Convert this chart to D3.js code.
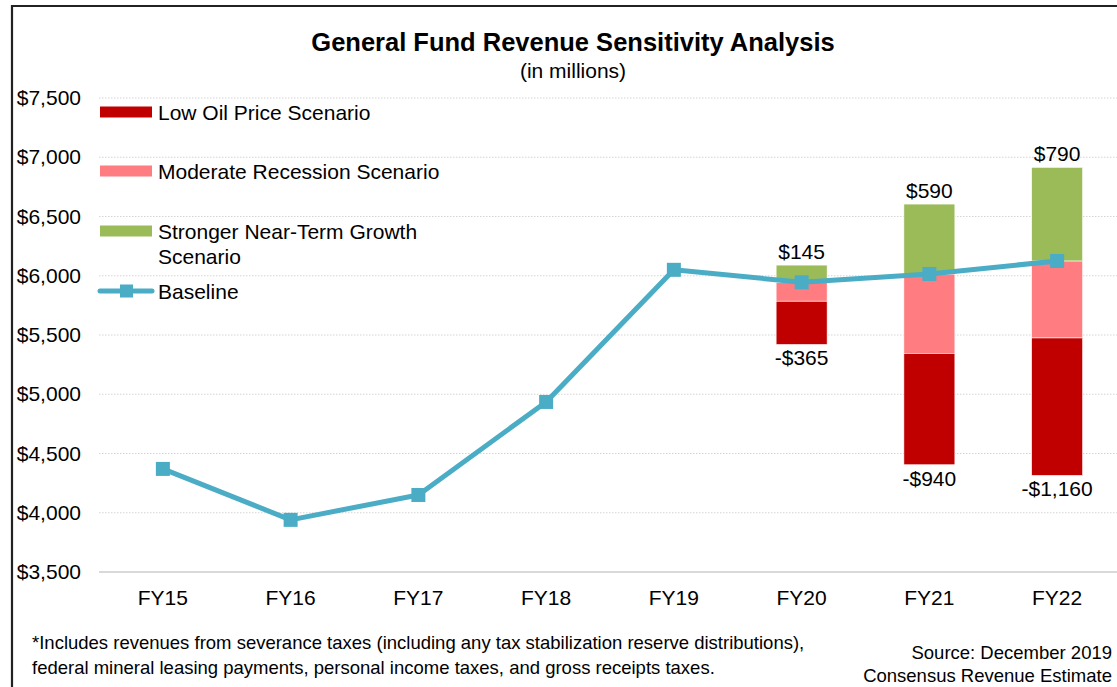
<!DOCTYPE html>
<html>
<head>
<meta charset="utf-8">
<script src="https://cdn.jsdelivr.net/npm/d3@7"></script>
<style>
  body { margin: 0; background: #fff; }
  svg { font-family: "Liberation Sans", Arial, sans-serif; }
</style>
</head>
<body>
<div id="chart"></div>
<script>
// --- data (in millions) ---
var years = ['FY15', 'FY16', 'FY17', 'FY18', 'FY19', 'FY20', 'FY21', 'FY22'];
var baseline = [4370, 3940, 4150, 4935, 6050, 5945, 6015, 6125];

var scenarioYears = ['FY20', 'FY21', 'FY22'];
var lowOil = [-365, -940, -1160];      // red, stacked below the pink
var moderate = [-160, -670, -650];     // pink, just below baseline
var stronger = [145, 590, 790];        // green, above baseline

var yTicks = [3500, 4000, 4500, 5000, 5500, 6000, 6500, 7000, 7500];

var legendItems = [
    { name: ['Low Oil Price Scenario'], color: '#c00000', type: 'bar' },
    { name: ['Moderate Recession Scenario'], color: '#ff7c80', type: 'bar' },
    { name: ['Stronger Near-Term Growth', 'Scenario'], color: '#9bbb59', type: 'bar' },
    { name: ['Baseline'], color: '#4bacc6', type: 'line' }
];

var width = 1117, height = 687;
var svg = d3.select('#chart')
    .append('svg')
    .attr('width', width)
    .attr('height', height);

// outer frame (runs off the right / bottom edge)
svg.append('path')
    .attr('d', 'M12,' + height + ' V6 H' + width)
    .attr('fill', 'none')
    .attr('stroke', '#222')
    .attr('stroke-width', 2.2);

var x = d3.scaleBand()
    .domain(years)
    .range([99, 1121]);

var y = d3.scaleLinear()
    .domain([3500, 7500])
    .range([572, 98]);

// gridlines
svg.append('g')
    .selectAll('line')
    .data(yTicks)
    .enter()
    .append('line')
    .attr('x1', 99)
    .attr('x2', width)
    .attr('y1', function(d) { return y(d); })
    .attr('y2', function(d) { return y(d); })
    .attr('stroke', function(d) { return d === 3500 ? '#d9d9d9' : '#d4d4d4'; })
    .attr('stroke-width', function(d) { return d === 3500 ? 2 : 1; })
    .attr('stroke-dasharray', function(d) { return d === 3500 ? null : '1.5,1.5'; });

// y axis labels
var yAxis = d3.axisLeft(y)
    .tickValues(yTicks)
    .tickSize(0)
    .tickPadding(0)
    .tickFormat(function(d) { return '$' + d3.format(',')(d); });

svg.append('g')
    .attr('transform', 'translate(81,0)')
    .call(yAxis)
    .call(function(g) { g.select('.domain').remove(); })
    .selectAll('text')
    .attr('font-size', 21)
    .attr('fill', '#000')
    .attr('font-family', '"Liberation Sans", Arial, sans-serif');

// x axis labels
var xAxis = d3.axisBottom(x).tickSize(0).tickPadding(0);
svg.append('g')
    .attr('transform', 'translate(0,590)')
    .call(xAxis)
    .call(function(g) { g.select('.domain').remove(); })
    .selectAll('text')
    .attr('font-size', 21)
    .attr('fill', '#000')
    .attr('font-family', '"Liberation Sans", Arial, sans-serif');

// stacked scenario bars
var barW = 51;
var segs = [];
scenarioYears.forEach(function(yr, i) {
    var b = baseline[years.indexOf(yr)];
    var pinkBottom = b + moderate[i];
    var redBottom = pinkBottom + lowOil[i];
    segs.push({ yr: yr, lo: pinkBottom, hi: b, color: '#ff7c80' });
    segs.push({ yr: yr, lo: redBottom, hi: pinkBottom, color: '#c00000' });
    segs.push({ yr: yr, lo: b, hi: b + stronger[i], color: '#9bbb59' });
});

svg.append('g')
    .selectAll('rect')
    .data(segs)
    .enter()
    .append('rect')
    .attr('x', function(d) { return x(d.yr) + x.bandwidth() / 2 - barW / 2; })
    .attr('width', barW)
    .attr('y', function(d) { return y(d.hi); })
    .attr('height', function(d) { return y(d.lo) - y(d.hi); })
    .attr('fill', function(d) { return d.color; })
    .attr('stroke', '#fff')
    .attr('stroke-width', 0.6);

// bar labels
var money = function(v) { return (v < 0 ? '-$' : '$') + d3.format(',')(Math.abs(v)); };
scenarioYears.forEach(function(yr, i) {
    var b = baseline[years.indexOf(yr)];
    var cx = x(yr) + x.bandwidth() / 2;
    svg.append('text')
        .attr('x', cx)
        .attr('y', y(b + stronger[i]) - 6)
        .attr('text-anchor', 'middle')
        .attr('font-size', 21)
        .text(money(stronger[i]));
    svg.append('text')
        .attr('x', cx)
        .attr('y', y(b + moderate[i] + lowOil[i]) + 21)
        .attr('text-anchor', 'middle')
        .attr('font-size', 21)
        .text(money(lowOil[i]));
});

// baseline line
var line = d3.line()
    .x(function(d, i) { return x(years[i]) + x.bandwidth() / 2; })
    .y(function(d) { return y(d); });

svg.append('path')
    .datum(baseline)
    .attr('d', line)
    .attr('fill', 'none')
    .attr('stroke', '#4bacc6')
    .attr('stroke-width', 5)
    .attr('stroke-linejoin', 'round');

var mk = 14;
svg.append('g')
    .selectAll('rect')
    .data(baseline)
    .enter()
    .append('rect')
    .attr('x', function(d, i) { return x(years[i]) + x.bandwidth() / 2 - mk / 2; })
    .attr('y', function(d) { return y(d) - mk / 2; })
    .attr('width', mk)
    .attr('height', mk)
    .attr('fill', '#4bacc6');

// legend
var legendY = [112, 171, 231, 291];
var legend = svg.append('g');
legendItems.forEach(function(item, i) {
    var cy = legendY[i];
    if (item.type === 'bar') {
        legend.append('rect')
            .attr('x', 100).attr('y', cy - 5.5)
            .attr('width', 52).attr('height', 11)
            .attr('fill', item.color);
    } else {
        legend.append('line')
            .attr('x1', 100).attr('x2', 152)
            .attr('y1', cy).attr('y2', cy)
            .attr('stroke', item.color)
            .attr('stroke-width', 5)
            .attr('stroke-linecap', 'round');
        legend.append('rect')
            .attr('x', 120).attr('y', cy - 6.5)
            .attr('width', 13).attr('height', 13)
            .attr('fill', item.color);
    }
    item.name.forEach(function(t, j) {
        legend.append('text')
            .attr('x', 158)
            .attr('y', cy + 7.5 + j * 25)
            .attr('font-size', 21)
            .text(t);
    });
});

// titles
svg.append('text')
    .attr('x', 573).attr('y', 51)
    .attr('text-anchor', 'middle')
    .attr('font-size', 25.5)
    .attr('font-weight', 'bold')
    .text('General Fund Revenue Sensitivity Analysis');
svg.append('text')
    .attr('x', 573).attr('y', 78)
    .attr('text-anchor', 'middle')
    .attr('font-size', 21)
    .text('(in millions)');

// footnotes
var notes = ['*Includes revenues from severance taxes (including any tax stabilization reserve distributions),',
             'federal mineral leasing payments, personal income taxes, and gross receipts taxes.'];
notes.forEach(function(t, i) {
    svg.append('text')
        .attr('x', 32).attr('y', 649 + i * 25)
        .attr('font-size', 18.5)
        .text(t);
});
var source = ['Source: December 2019', 'Consensus Revenue Estimate'];
source.forEach(function(t, i) {
    svg.append('text')
        .attr('x', 1112).attr('y', 659 + i * 23)
        .attr('text-anchor', 'end')
        .attr('font-size', 18.5)
        .text(t);
});
</script>
</body>
</html>
